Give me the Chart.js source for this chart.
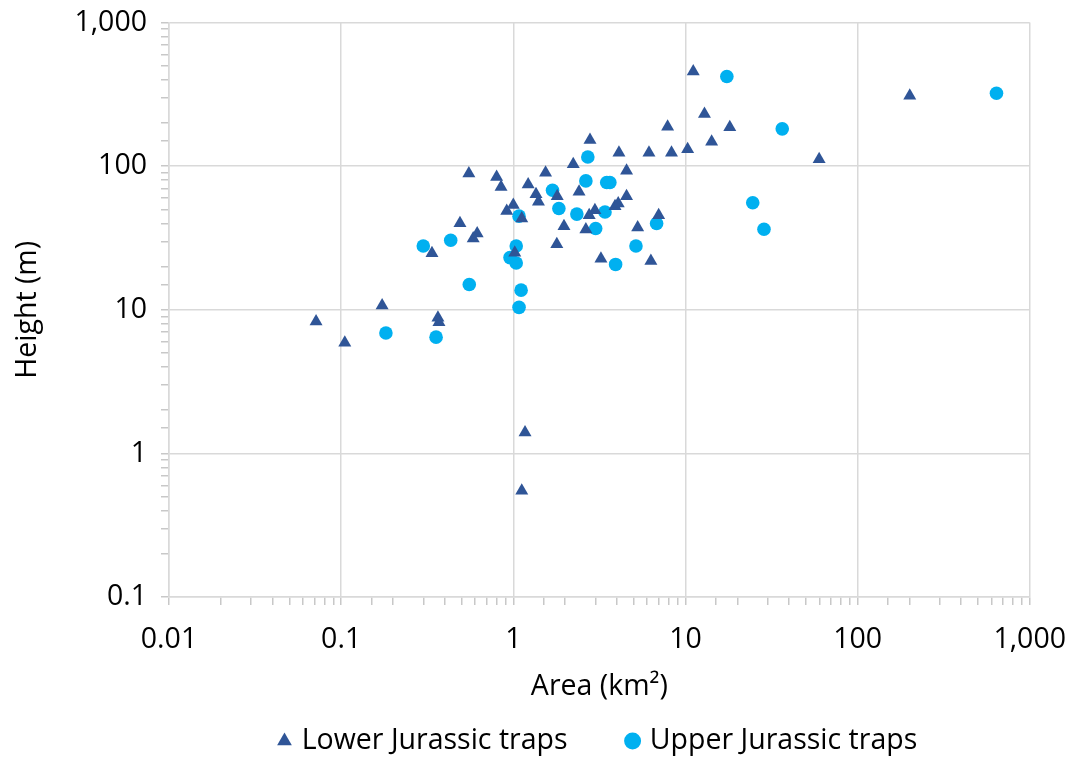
<!DOCTYPE html>
<html>
<head>
<meta charset="utf-8">
<title>Trap area vs height</title>
<script src="https://cdn.jsdelivr.net/npm/chart.js@4.4.1/dist/chart.umd.min.js"></script>
<style>
  html, body { margin: 0; padding: 0; background: #fff; }
  #wrap { width: 1070px; height: 758px; }
</style>
</head>
<body>
<div id="wrap"><canvas id="trapChart" width="1070" height="758"></canvas></div>
<script>
// Lower Jurassic traps: area (km²) and height (m)
const lowerArea = [0.0715, 0.105, 0.173, 0.365, 0.37, 0.337, 0.49, 0.585, 0.617, 0.552,
                   0.80, 0.849, 0.916, 1.0, 1.12, 1.02, 1.17, 1.12, 1.22, 1.355,
                   1.40, 1.54, 1.80, 1.79, 1.97, 2.23, 2.41, 2.64, 2.76, 2.98,
                   2.79, 3.23, 3.9, 4.07, 4.11, 4.55, 4.55, 5.28, 6.14, 6.3,
                   6.99, 7.88, 8.3, 10.3, 11.1, 12.9, 14.2, 18.1, 59.8, 201];
const lowerHeight = [8.3, 5.9, 10.7, 8.8, 8.2, 24.8, 40, 31.4, 34, 89,
                     84, 71.5, 48.8, 53.6, 43.2, 25, 1.4, 0.55, 74.7, 63.9,
                     56.5, 90, 61.8, 28.6, 38.2, 103, 66.3, 36.2, 45.6, 49.4,
                     152, 22.7, 52.7, 55, 124, 93, 61.8, 37.4, 124, 21.9,
                     45.6, 188, 124, 131, 456, 231, 148, 187, 112, 310];

// Upper Jurassic traps: area (km²) and height (m)
const upperArea = [0.182, 0.30, 0.356, 0.433, 0.555, 0.957, 1.04, 1.04, 1.08, 1.11,
                   1.08, 1.69, 1.84, 2.34, 2.64, 2.71, 3.01, 3.41, 3.49, 3.64,
                   3.93, 5.16, 6.8, 17.4, 24.6, 28.6, 36.5, 641];
const upperHeight = [6.9, 27.8, 6.45, 30.5, 15.0, 23.1, 27.8, 21.2, 44.9, 13.7,
                     10.4, 68, 50.8, 46.4, 79, 116, 36.8, 48, 77, 77,
                     20.7, 27.8, 39.9, 421, 55.6, 36.4, 182, 322];

const seriesNames = ['Lower Jurassic traps', 'Upper Jurassic traps'];
const xRange = [0.01, 1000];
const yRange = [0.1, 1000];

const toPoints = (xs, ys) => xs.map((x, i) => ({ x: x, y: ys[i] }));
const isDecade = v => Math.abs(Math.log10(v) - Math.round(Math.log10(v))) < 1e-6;
const fmt = v => v.toLocaleString('en-US', { maximumFractionDigits: 2 });

const FAMILY = '"Open Sans", sans-serif';
const FONT = { family: FAMILY, size: 28.5 };
const GRID = '#d9d9d9';

function logAxis(range, title) {
  return {
    type: 'logarithmic',
    min: range[0],
    max: range[1],
    title: { display: true, text: title, color: '#000', font: FONT },
    border: { color: GRID, width: 1.5 },
    grid: {
      lineWidth: 1.5,
      // only decades get a grid line, every tick keeps its mark
      color: ctx => (ctx.tick && isDecade(ctx.tick.value)) ? GRID : 'rgba(0,0,0,0)',
      tickColor: '#c8c8c8',
      tickLength: 8,
      tickWidth: 1.5
    },
    ticks: {
      autoSkip: false,
      maxRotation: 0,
      color: '#000',
      font: FONT,
      callback: v => isDecade(v) ? fmt(v) : ''
    }
  };
}

const xAxis = logAxis(xRange, 'Area (km²)');
xAxis.position = 'bottom';
xAxis.ticks.padding = 4;
xAxis.ticks.font = { family: FAMILY, size: 28.5, lineHeight: 2.18 };
xAxis.title.padding = { top: 0, bottom: -39.4 };
xAxis.afterFit = s => { s.height = 67.75; };

const yAxis = logAxis(yRange, 'Height (m)');
yAxis.ticks.padding = 14;
yAxis.ticks.font = { family: FAMILY, size: 28.5, lineHeight: 0.5 };
yAxis.title.padding = { top: 11, bottom: 4 };
yAxis.afterFit = s => { s.width = 169; };

new Chart(document.getElementById('trapChart'), {
  type: 'scatter',
  data: {
    datasets: [
      {
        label: seriesNames[0],
        data: toPoints(lowerArea, lowerHeight),
        pointStyle: 'triangle',
        pointRadius: 7.5,
        backgroundColor: '#2f5597',
        borderColor: '#2f5597',
        borderWidth: 0
      },
      {
        label: seriesNames[1],
        data: toPoints(upperArea, upperHeight),
        pointStyle: 'circle',
        pointRadius: 6.8,
        backgroundColor: '#00b0f0',
        borderColor: '#00b0f0',
        borderWidth: 0
      }
    ]
  },
  options: {
    responsive: false,
    animation: false,
    layout: { padding: { top: 22.6, right: 40, left: 0, bottom: -7.25 } },
    scales: { x: xAxis, y: yAxis },
    plugins: {
      tooltip: { enabled: false },
      legend: {
        position: 'bottom',
        fullSize: false,
        labels: {
          usePointStyle: true,
          boxWidth: 6,
          boxHeight: 12,
          padding: 62,
          color: '#000',
          font: FONT
        }
      }
    }
  }
});
</script>
</body>
</html>
